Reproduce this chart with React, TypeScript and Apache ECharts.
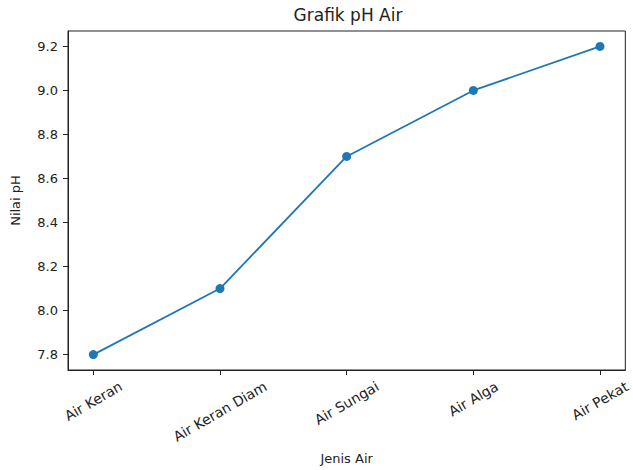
import React, { useEffect, useRef } from "react";
import * as echarts from "echarts";

const CATEGORIES = ["Air Keran", "Air Keran Diam", "Air Sungai", "Air Alga", "Air Pekat"];
const PH_VALUES = [7.8, 8.1, 8.7, 9.0, 9.2];
const Y_TICKS = [7.8, 8.0, 8.2, 8.4, 8.6, 8.8, 9.0, 9.2];
const X_TICKS = [0, 1, 2, 3, 4];

const FONT = "DejaVu Sans";
const TICK_SIZE = 13;
const XTICK_SIZE = 14;

function measure(text: string, font: string): number {
  const ctx = document.createElement("canvas").getContext("2d");
  if (!ctx) return text.length * 7;
  ctx.font = font;
  return ctx.measureText(text).width;
}

export default function App() {
  const ref = useRef<HTMLDivElement>(null);
  useEffect(() => {
    if (!ref.current) return;
    const chart = echarts.init(ref.current, null, { renderer: "svg" });
    const widths = CATEGORIES.map((c) => measure(c, `${XTICK_SIZE}px ${FONT}`));
    const wmin = Math.min(...widths);
    const rich: Record<string, any> = {};
    CATEGORIES.forEach((_, i) => {
      const d = (widths[i] - wmin) / 4;
      rich["l" + i] = {
        fontFamily: FONT,
        fontSize: XTICK_SIZE,
        color: "#222",
        padding: [d * 1.732, d, 0, 0],
      };
    });
    const gridLeft = 68;
    const gridRight = 5;
    const gridTop = 31;
    const gridBottom = 100;
    const plotCenter = gridLeft + (633 - gridLeft - gridRight) / 2;

    chart.setOption({
      animation: false,
      textStyle: { fontFamily: FONT },
      graphic: [
        {
          type: "text",
          x: plotCenter,
          y: 6,
          style: {
            text: "Grafik pH Air",
            fontFamily: FONT,
            fontSize: 17,
            fill: "#222",
            textAlign: "center",
            textVerticalAlign: "top",
          },
        },
      ],
      grid: {
        left: gridLeft,
        right: gridRight,
        top: gridTop,
        bottom: gridBottom,
        show: true,
        borderColor: "#222",
        borderWidth: 1,
        backgroundColor: "transparent",
      },
      xAxis: {
        type: "value",
        min: -0.2,
        max: 4.2,
        name: "Jenis Air",
        nameLocation: "middle",
        nameGap: 82,
        nameTextStyle: { fontFamily: FONT, fontSize: TICK_SIZE, color: "#222" },
        axisLine: { show: true, onZero: false, lineStyle: { color: "#222", width: 1 } },
        axisTick: { show: true, length: 5, customValues: X_TICKS, lineStyle: { color: "#222" } },
        splitLine: { show: false },
        axisLabel: {
          customValues: X_TICKS,
          rotate: 30,
          align: "center",
          verticalAlign: "middle",
          margin: 9 + 0.433 * XTICK_SIZE + wmin / 4,
          hideOverlap: false,
          formatter: (v: number) => {
            const i = Math.round(v);
            return `{l${i}|${CATEGORIES[i]}}`;
          },
          rich,
        },
      },
      yAxis: {
        type: "value",
        min: 7.73,
        max: 9.27,
        name: "Nilai pH",
        nameLocation: "middle",
        nameGap: 46,
        nameRotate: 90,
        nameTextStyle: { fontFamily: FONT, fontSize: TICK_SIZE, color: "#222" },
        axisLine: { show: true, onZero: false, lineStyle: { color: "#222", width: 1 } },
        axisTick: { show: true, length: 5, customValues: Y_TICKS, lineStyle: { color: "#222" } },
        splitLine: { show: false },
        axisLabel: {
          customValues: Y_TICKS,
          margin: 10,
          fontFamily: FONT,
          fontSize: TICK_SIZE,
          color: "#222",
          formatter: (v: number) => v.toFixed(1),
        },
      },
      series: [
        {
          type: "line",
          data: PH_VALUES.map((v, i) => [i, v]),
          symbol: "circle",
          symbolSize: 9,
          lineStyle: { color: "#1f77b4", width: 1.8 },
          itemStyle: { color: "#1f77b4" },
        },
      ],
    });
    return () => chart.dispose();
  }, []);
  return (
    <div
      ref={ref}
      style={{ position: "fixed", left: 0, top: 0, width: 633, height: 470, background: "#fff" }}
    />
  );
}
